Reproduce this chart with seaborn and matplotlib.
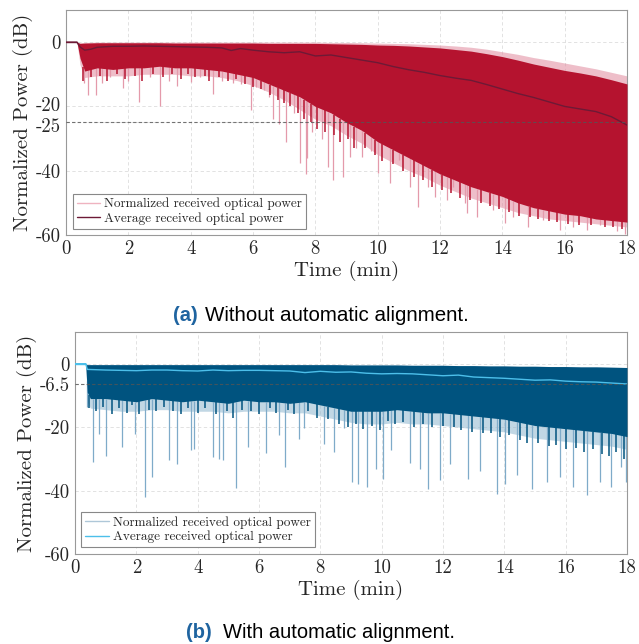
import numpy as np
import matplotlib
matplotlib.use("Agg")
import matplotlib.pyplot as plt
import matplotlib.transforms as mtransforms
import seaborn as sns
from matplotlib.lines import Line2D

sns.set_style("white")
plt.rcParams["font.family"] = ["cmr10", "DejaVu Serif"]
plt.rcParams["mathtext.fontset"] = "cm"
plt.rcParams["axes.unicode_minus"] = False
plt.rcParams["axes.formatter.use_mathtext"] = True

# -----------------------------
# Panel (a): without automatic alignment
# -----------------------------
t_env_a = [0.35, 0.45, 0.6, 1, 1.5, 2, 2.5, 3, 3.5, 4, 4.5, 5, 5.5, 6, 6.5, 7, 7.5, 8,
           8.5, 9, 9.5, 10, 10.5, 11, 11.5, 12, 12.5, 13, 13.5, 14, 14.5, 15, 15.5, 16,
           16.5, 17, 17.5, 18]
top_a = [0, -0.4, -0.3, -0.2, -0.2, -0.2, -0.2, -0.2, -0.3, -0.3, -0.3, -0.3, -0.3, -0.3,
         -0.4, -0.4, -0.4, -0.4, -0.5, -0.6, -0.7, -0.9, -1.0, -1.2, -1.5, -1.8, -2.3,
         -2.8, -3.6, -4.5, -5.6, -6.8, -7.8, -8.8, -9.6, -10.5, -11.7, -13.0]
light_top_a = [0, -0.2, -0.1, 0, 0, 0, 0, 0, 0, 0, 0, 0, 0, 0, 0, 0, 0, 0, -0.1, -0.1, -0.2,
               -0.3, -0.4, -0.5, -0.7, -0.9, -1.2, -1.6, -2.2, -3.0, -3.8, -4.8, -5.6,
               -6.5, -7.4, -8.3, -9.4, -10.5]
low_a = [0, -5, -9, -8, -8.5, -8, -8, -7.5, -8, -8, -8.5, -9, -10, -11, -13, -15, -17,
         -20, -22, -25, -27.5, -31, -33.5, -36, -38.5, -41, -43, -45, -46.5, -48, -50,
         -51.5, -52.5, -53.5, -54, -55, -55.5, -56]
fringe_a = [0, -7, -11, -10.5, -10.5, -10.5, -10, -10, -10, -10.5, -10.5, -11, -12, -13.5,
            -15.5, -18, -21, -24, -26, -29, -31.5, -35, -37.5, -40, -42, -44.5, -46.5,
            -48.5, -50, -51.5, -53, -54, -55, -55.5, -56, -56.5, -57, -57.5]

t_avg_a = [0, 0.35, 0.45, 0.6, 0.8, 1, 1.5, 2, 2.5, 3, 3.5, 4, 4.5, 5, 5.3, 5.6, 6, 6.5,
           7, 7.5, 8, 8.5, 9, 9.5, 10, 10.5, 11, 11.5, 12, 12.5, 13, 13.5, 14, 14.5, 15,
           15.5, 16, 16.5, 17, 17.5, 18]
avg_a = [0, 0, -1.5, -2.5, -2.2, -1.6, -1.3, -1.3, -1.2, -1.3, -1.4, -1.5, -1.6, -1.8,
         -2.6, -2.0, -2.5, -3.0, -3.3, -3.0, -4.3, -4.0, -4.8, -5.6, -6.4, -7.6, -8.6,
         -9.4, -10.4, -11.2, -11.9, -13.2, -14.6, -16.0, -17.2, -18.6, -20.0, -20.8,
         -21.6, -23.2, -25.8]

# deep light spikes
spike_t_a = [0.58, 0.7, 0.95, 1.15, 1.4, 1.82, 2.0, 2.35, 2.7, 3.02, 3.3, 3.55, 4.0, 4.3,
             4.73, 5.0, 5.37, 5.6, 5.93, 6.1, 6.35, 6.5, 6.65, 6.84, 7.06, 7.3, 7.5, 7.7,
             7.72, 7.9, 8.2, 8.42, 8.56, 8.9, 9.1, 9.3, 9.49, 9.8, 10.02, 10.39, 10.7,
             11.04, 11.3, 11.62, 11.84, 12.21, 12.42, 12.8, 12.86, 13.18, 13.71, 14.08,
             14.35, 14.83, 15.3, 15.85, 16.28, 16.71, 17.14, 17.68, 17.94]
spike_v_a = [-12.8, -16.5, -16.5, -12.8, -11, -14.3, -12, -18.5, -11, -20, -12, -13.5,
             -12.5, -11, -16, -12, -12.8, -13, -21, -14, -15, -17, -24, -25.5, -31, -22,
             -37.5, -41, -36, -28, -30, -38.8, -42.9, -41.9, -35.6, -33, -35.6, -34,
             -40.8, -43.9, -36.7, -45, -51.2, -45, -48.1, -49, -45, -50.1, -53.2, -54.3,
             -52.2, -56.4, -54.3, -57.4, -55.4, -58.4, -57.4, -58.4, -56.9, -58.9, -59.6]

# short dark spikes along the lower edge of the dense band
dspike_t_a = [0.55, 0.8, 1.1, 1.3, 1.65, 1.9, 2.2, 2.45, 2.8, 3.1, 3.4, 3.7, 3.9, 4.15,
              4.45, 4.6, 4.9, 5.2, 5.45, 5.75, 6.0, 6.25, 6.55, 6.8, 7.0, 7.2, 7.45, 7.65,
              7.85, 8.05, 8.3, 8.6, 8.8, 9.05, 9.25, 9.6, 9.9, 10.15, 10.5, 10.8, 11.15,
              11.45, 11.75, 12.05, 12.35, 12.65, 12.95, 13.3, 13.6, 13.9, 14.2, 14.55,
              14.9, 15.15, 15.5, 15.75, 16.1, 16.45, 16.85, 17.3, 17.55, 17.85]
dspike_v_a = [-12, -11, -10.5, -12, -10, -11.5, -10.5, -12, -10, -11, -10, -11.5, -10,
              -11, -10.5, -12, -11, -12, -11.5, -13, -14, -14.5, -16.5, -18, -19, -20, -22,
              -24, -25, -27, -28, -29, -31, -30, -33, -33, -35, -37, -38, -40, -42, -43,
              -45, -46, -47, -48.5, -49, -50, -51, -52, -53, -54, -54.5, -55, -55.5, -56,
              -56.5, -57, -57, -57.5, -57.5, -58]

# -----------------------------
# Panel (b): with automatic alignment
# -----------------------------
t_env_b = [0.35, 0.4, 0.5, 1, 1.5, 2, 2.5, 3, 3.5, 4, 4.5, 5, 5.5, 6, 6.5, 7, 7.5, 8,
           8.5, 9, 9.5, 10, 10.5, 11, 11.5, 12, 12.5, 13, 13.5, 14, 14.5, 15, 15.5, 16,
           16.5, 17, 17.5, 18]
top_b = [-0.3, -0.3, -0.3, -0.3, -0.3, -0.3, -0.3, -0.3, -0.3, -0.3, -0.3, -0.3, -0.3,
         -0.3, -0.3, -0.3, -0.3, -0.3, -0.3, -0.4, -0.4, -0.4, -0.4, -0.5, -0.5, -0.5,
         -0.6, -0.6, -0.7, -0.7, -0.8, -0.8, -0.9, -0.9, -1.0, -1.0, -1.1, -1.2]
low_b = [-0.5, -9, -11, -11, -11.5, -12, -11, -11.5, -12, -11.5, -12, -12.5, -11.5, -12,
         -12, -12.5, -12, -13, -14, -15, -15, -15, -14.5, -15, -15.5, -15.5, -16, -16.5,
         -17, -17.5, -18.5, -19.5, -20, -20.5, -21, -21.5, -22, -23]
fringe_b = [-0.5, -12, -14, -14.5, -15, -15, -14.5, -14.5, -15, -15, -15, -15.5, -15,
            -15, -15, -15.5, -15.5, -16.5, -17.5, -18.5, -19, -19, -18.5, -19, -19,
            -19.5, -20, -20.5, -21, -21.5, -22.5, -23.5, -24, -24.5, -25, -25.5, -26, -27]

t_avg_b = [0, 0.35, 0.4, 1, 1.5, 2, 2.5, 3, 3.5, 4, 4.5, 5, 5.5, 6, 6.5, 7, 7.5, 8, 8.5,
           9, 9.5, 10, 10.5, 11, 11.5, 12, 12.5, 13, 13.5, 14, 14.5, 15, 15.5, 16, 16.5,
           17, 17.5, 18]
avg_b = [0, 0, -1.8, -2.0, -2.1, -2.2, -2.0, -2.0, -2.2, -2.3, -2.0, -2.2, -2.1, -2.1,
         -2.2, -2.3, -2.8, -2.4, -2.7, -2.6, -3.0, -3.2, -3.1, -3.2, -3.5, -3.8, -3.6,
         -4.2, -4.4, -4.6, -4.9, -5.2, -5.1, -5.5, -5.7, -5.8, -6.1, -6.4]

spike_t_b = [0.38, 0.58, 0.79, 1.01, 1.53, 1.96, 2.27, 2.51, 3.08, 3.33, 3.79, 3.89, 4.49,
             4.71, 4.82, 5.26, 5.63, 6.23, 6.66, 6.84, 7.31, 7.47, 8.13, 8.45, 8.78, 9.02,
             9.24, 9.53, 9.82, 10.05, 10.32, 10.92, 11.25, 11.52, 11.9, 12.23, 12.82,
             13.2, 13.75, 14.02, 14.4, 14.89, 15.38, 15.81, 16.25, 16.7, 17.11, 17.49,
             17.82, 17.96]
spike_v_b = [-13.7, -31, -22.1, -29.2, -26.3, -22.1, -42, -35.7, -30.3, -31.5, -27.1,
             -26.8, -29.5, -30, -30.5, -39.1, -26.2, -28.3, -22.6, -32.6, -23.6, -20.4,
             -25.3, -27.9, -20.3, -37.3, -37.8, -38.9, -33.1, -36.3, -27.3, -31.2, -33.1,
             -39.4, -36.8, -31.5, -36.3, -33.7, -41, -37.8, -35.2, -39.4, -37.3, -35.7,
             -38.9, -41.5, -37.3, -38.9, -32.6, -37.3]

dspike_t_b = [0.45, 0.7, 0.9, 1.2, 1.45, 1.7, 1.85, 2.1, 2.4, 2.65, 2.9, 3.2, 3.45, 3.7,
              4.0, 4.25, 4.6, 4.95, 5.15, 5.45, 5.75, 6.0, 6.35, 6.55, 6.95, 7.15, 7.6,
              7.9, 8.25, 8.6, 8.9, 9.15, 9.4, 9.7, 9.95, 10.2, 10.45, 10.7, 11.05, 11.35,
              11.65, 12.0, 12.35, 12.6, 12.95, 13.3, 13.55, 13.85, 14.15, 14.5, 14.75,
              15.1, 15.45, 15.7, 16.0, 16.35, 16.6, 16.9, 17.2, 17.4, 17.65, 17.9]
dspike_v_b = [-14, -15, -13.5, -16, -14, -15.5, -13, -16, -14.5, -15, -13.5, -15, -16,
              -14, -15.5, -14, -16, -15, -17, -14.5, -15, -16, -14, -15.5, -14.5, -16, -15,
              -17, -17.5, -19, -20, -19, -20.5, -19.5, -21, -18, -19, -18.5, -20, -19, -20,
              -19.5, -20, -21, -21.5, -22, -22, -23, -22.5, -24, -25, -25, -26, -25.5, -27,
              -26.5, -28, -27, -28.5, -29, -28, -30]

y_ticks_a = [-60, -40, -25, -20, 0]
y_ticks_b = [-60, -40, -20, -6.5, 0]
x_ticks = [0, 2, 4, 6, 8, 10, 12, 14, 16, 18]

legend_labels = ["Normalized received optical power", "Average received optical power"]

fig = plt.figure(figsize=(6.39, 6.44), dpi=100)
ax_a = fig.add_axes([0.1033, 0.6351, 0.8779, 0.3494])
ax_b = fig.add_axes([0.1174, 0.1398, 0.8638, 0.3447])


def draw_panel(ax, t_env, top, light_top, low, fringe, spike_t, spike_v, dspike_t,
               dspike_v, t_avg, avg, c_dark, c_light, c_spike, c_avg, c_leg, ref_y,
               yticks, leg_anchor):
    ax.set_axisbelow(True)
    ax.grid(True, color="#dddddd", linestyle=(0, (4, 3)), linewidth=0.6)
    # light haze around the dense part of the signal
    ax.fill_between(t_env, fringe, light_top, color=c_light, alpha=0.55, linewidth=0,
                    zorder=2)
    ax.vlines(spike_t, np.interp(spike_t, t_env, low), spike_v, color=c_spike,
              linewidth=0.9, zorder=2.5)
    ax.vlines(dspike_t, np.interp(dspike_t, t_env, low), dspike_v, color=c_dark,
              linewidth=1.1, zorder=3)
    ax.fill_between(t_env, low, top, color=c_dark, linewidth=0, zorder=3)
    ax.plot([0, t_env[0]], [0, 0], color=c_avg, linewidth=1.0, zorder=3)
    sns.lineplot(x=t_avg, y=avg, ax=ax, color=c_avg, linewidth=1.0, zorder=4)
    ax.axhline(ref_y, color="#555555", alpha=0.8, linestyle=(0, (3, 2)), linewidth=0.8,
               zorder=5)

    ax.set_xlim(0, 18)
    ax.set_ylim(-60, 10)
    ax.set_xticks(x_ticks)
    ax.set_xticklabels([str(v) for v in x_ticks])
    ax.set_yticks(yticks)
    ax.set_yticklabels([("%g" % v) for v in yticks])
    ax.tick_params(length=0, labelsize=13.5, pad=4)
    ax.set_xlabel("Time (min)", fontsize=15, labelpad=2)
    ax.set_ylabel("Normalized Power (dB)", fontsize=15, labelpad=2)
    for s in ax.spines.values():
        s.set_color("#999999")
        s.set_linewidth(0.8)

    handles = [Line2D([], [], color=c_leg, linewidth=1.0),
               Line2D([], [], color=c_avg, linewidth=1.0)]
    leg = ax.legend(handles, legend_labels, loc="lower left", bbox_to_anchor=leg_anchor,
                    borderaxespad=0, fontsize=9.5, frameon=True, fancybox=False,
                    framealpha=1, edgecolor="#888888", handlelength=1.8,
                    handletextpad=0.3, labelspacing=0.15, borderpad=0.3)
    leg.get_frame().set_linewidth(0.8)
    leg.set_zorder(10)


draw_panel(ax_a, t_env_a, top_a, light_top_a, low_a, fringe_a, spike_t_a, spike_v_a,
           dspike_t_a, dspike_v_a, t_avg_a, avg_a, "#b5132f", "#e08a9e", "#e49aab",
           "#6d1a36", "#efb3c0", -25, y_ticks_a, (0.012, 0.027))
draw_panel(ax_b, t_env_b, top_b, top_b, low_b, fringe_b, spike_t_b, spike_v_b,
           dspike_t_b, dspike_v_b, t_avg_b, avg_b, "#00537f", "#8fb6cf", "#7fabc9",
           "#4cbfea", "#aec7d8", -6.5, y_ticks_b, (0.011, 0.031))

# nudge the close -20 / -25 labels apart a little
for lab in ax_a.get_yticklabels():
    if lab.get_text() == "-20":
        lab.set_transform(lab.get_transform() + mtransforms.ScaledTranslation(0, 1.5 / 72, fig.dpi_scale_trans))
    elif lab.get_text() == "-25":
        lab.set_transform(lab.get_transform() + mtransforms.ScaledTranslation(0, -1.5 / 72, fig.dpi_scale_trans))

cap_font = ["Liberation Sans", "DejaVu Sans"]
fig.text(0.2707, 0.5016, "(a)", fontsize=14.5, fontweight="bold", color="#1f64a0",
         family=cap_font, va="baseline", ha="left")
fig.text(0.3208, 0.5016, "Without automatic alignment.", fontsize=14.8, color="black",
         family=cap_font, va="baseline", ha="left")
fig.text(0.291, 0.0093, "(b)", fontsize=14.5, fontweight="bold", color="#1f64a0",
         family=cap_font, va="baseline", ha="left")
fig.text(0.349, 0.0093, "With automatic alignment.", fontsize=14.5, color="black",
         family=cap_font, va="baseline", ha="left")

fig.savefig("out.png", dpi=100)
